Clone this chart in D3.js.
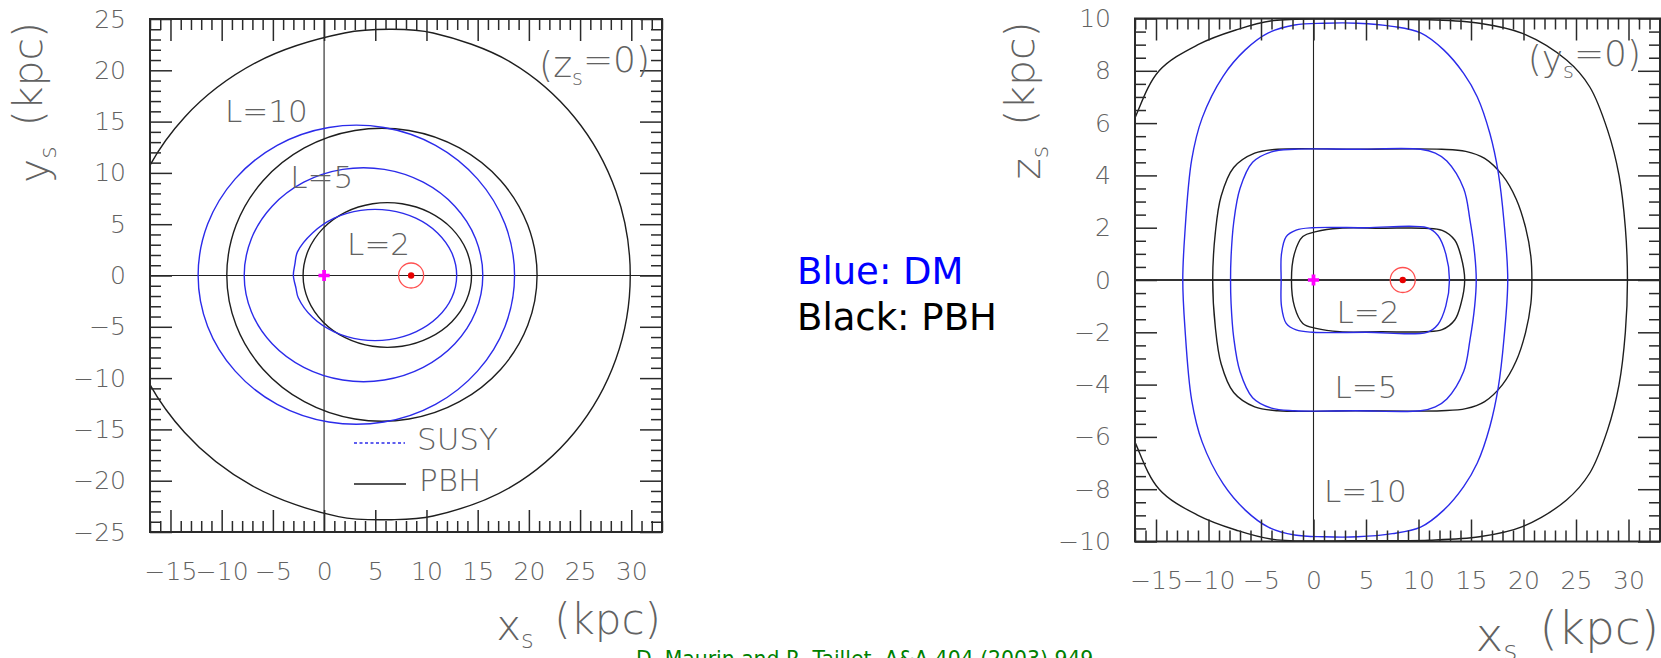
<!DOCTYPE html>
<html>
<head>
<meta charset="utf-8">
<script src="https://cdn.jsdelivr.net/npm/d3@7/dist/d3.min.js"></script>
<style>
html, body { margin: 0; padding: 0; background: #fff; }
svg { display: block; }
.thin { font-family: "DejaVu Sans Light", "DejaVu Sans ExtraLight", "DejaVu Sans", sans-serif; font-weight: 200; fill: #626262; }
</style>
</head>
<body>
<svg id="chart" width="1661" height="658"></svg>
<script>
// ---- axis ranges and tick values (kpc) ----
const xRange = [-17, 33];
const yRangeXY = [-25, 25];
const zRangeXZ = [-10, 10];
const xTickValues = [-15, -10, -5, 0, 5, 10, 15, 20, 25, 30];
const yTickValuesXY = [-25, -20, -15, -10, -5, 0, 5, 10, 15, 20, 25];
const zTickValuesXZ = [-10, -8, -6, -4, -2, 0, 2, 4, 6, 8, 10];

// Galactic centre and Sun position (kpc)
const galCentre = [0, 0];
const sunPos = [8.5, 0];

// ---- origin contours in the Galactic plane, points (x_s, y_s), z_s = 0 ----
const pbhXY_L10 = [
  [29.9, 0], [28.5, 8.21], [24.45, 15.43], [18.25, 20.78], [10.65, 23.64], [6.6, 24.0],
  [2.0, 23.64], [-6.6, 20.78], [-13.62, 15.43], [-18.2, 8.21], [-19.8, 0],
  [-18.2, -8.14], [-13.62, -15.3], [-7.0, -20.5], [1.4, -23.5], [6.6, -23.8],
  [10.65, -23.44], [18.25, -20.61], [24.45, -15.3], [28.5, -8.14]
];
const dmXY_L10 = [
  [18.6, 0], [17.67, 5.01], [14.98, 9.42], [10.88, 12.69], [5.84, 14.43], [0.46, 14.43],
  [-4.58, 12.69], [-8.68, 9.42], [-11.37, 5.01], [-12.3, 0], [-11.37, -4.96], [-8.68, -9.32],
  [-4.58, -12.56], [0.46, -14.28], [5.84, -14.28], [10.88, -12.56], [14.98, -9.32], [17.67, -4.96]
];
const pbhXY_L5 = [
  [20.8, 0], [19.89, 4.91], [17.26, 9.23], [13.22, 12.43], [8.29, 14.13], [3.01, 14.13],
  [-1.93, 12.43], [-5.96, 9.23], [-8.59, 4.91], [-9.5, 0], [-8.59, -4.86], [-5.96, -9.13],
  [-1.93, -12.3], [3.01, -13.99], [8.29, -13.99], [13.22, -12.3], [17.26, -9.13], [19.89, -4.86]
];
const dmXY_L5 = [
  [15.5, 0], [14.8, 3.59], [12.77, 6.75], [9.68, 9.09], [5.88, 10.34], [1.82, 10.34],
  [-1.98, 9.09], [-5.07, 6.75], [-7.1, 3.59], [-7.8, 0], [-7.1, -3.54], [-5.07, -6.66],
  [-1.98, -8.96], [1.82, -10.19], [5.88, -10.19], [9.68, -8.96], [12.77, -6.66], [14.8, -3.54]
];
const pbhXY_L2 = [
  [14.4, 0], [13.91, 2.43], [12.48, 4.57], [10.29, 6.15], [7.61, 6.99], [4.74, 6.99],
  [2.06, 6.15], [-0.12, 4.57], [-1.55, 2.43], [-2.05, 0], [-1.55, -2.39], [-0.12, -4.5],
  [2.06, -6.06], [4.74, -6.9], [7.61, -6.9], [10.29, -6.06], [12.48, -4.5], [13.91, -2.39]
];
const dmXY_L2 = [
  [12.95, 0], [12.47, 2.21], [11.08, 4.15], [8.96, 5.59], [6.36, 6.35], [3.59, 6.35],
  [0.99, 5.59], [-1.13, 4.15], [-2.6, 2.3], [-2.85, 1.1], [-3.0, 0], [-2.75, -1.2],
  [-2.52, -2.17], [-1.13, -4.08], [0.99, -5.5], [3.59, -6.25], [6.36, -6.25], [8.96, -5.5],
  [11.08, -4.08], [12.47, -2.17]
];

// ---- origin contours in the vertical plane, points (x_s, z_s), y_s = 0 ----
const pbhXZ_L10 = [
  [-3.8, 9.92], [4.0, 9.97], [11.0, 9.95], [15.8, 9.82], [19.9, 9.43], [24.1, 8.41], [26.3, 7.39],
  [28.0, 5.74], [29.1, 4.0], [29.7, 2.0], [29.9, 0], [29.7, -2.0], [29.1, -4.0], [28.0, -5.74],
  [26.3, -7.39], [24.1, -8.41], [19.9, -9.43], [15.8, -9.82], [11.0, -9.95], [4.0, -9.97],
  [-3.8, -9.92], [-7.4, -9.56], [-11.0, -9.0], [-14.7, -8.0], [-17.0, -6.2], [-19.0, -4.0],
  [-20.0, -2.0], [-20.3, 0], [-20.0, 2.0], [-19.0, 4.0], [-17.0, 6.2], [-14.7, 8.0], [-11.0, 9.0],
  [-7.4, 9.56]
];
const dmXZ_L10 = [
  [-4.3, 9.45], [-1.8, 9.75], [1.0, 9.82], [4.2, 9.82], [7.5, 9.7], [10.2, 9.45], [12.4, 8.8],
  [14.3, 7.9], [15.6, 7.0], [16.8, 5.6], [17.6, 4.1], [18.15, 2.2], [18.5, 0], [18.15, -2.2],
  [17.6, -4.1], [16.8, -5.6], [15.6, -7.0], [14.3, -7.9], [12.4, -8.8], [10.2, -9.45], [7.5, -9.7],
  [4.2, -9.82], [1.0, -9.82], [-1.8, -9.75], [-4.3, -9.45], [-6.5, -8.8], [-8.6, -7.8],
  [-10.6, -6.2], [-11.6, -4.6], [-12.25, -1.8], [-12.45, 0], [-12.25, 1.8], [-11.6, 4.6],
  [-10.6, 6.2], [-8.6, 7.8], [-6.5, 8.8]
];
const pbhXZ_L5 = [
  [-3.4, 5.0], [4.0, 5.0], [12.2, 5.0], [14.5, 4.92], [16.3, 4.65], [18.0, 4.0], [19.3, 3.1],
  [20.2, 2.0], [20.7, 0.9], [20.8, 0], [20.7, -0.9], [20.2, -2.0], [19.3, -3.1], [18.0, -4.0],
  [16.3, -4.65], [14.5, -4.92], [12.2, -5.0], [4.0, -5.0], [-3.4, -5.0], [-5.6, -4.85],
  [-7.6, -4.3], [-8.8, -3.2], [-9.35, -1.8], [-9.6, 0], [-9.35, 1.8], [-8.8, 3.2], [-7.6, 4.3],
  [-5.6, 4.85]
];
const dmXZ_L5 = [
  [-1.8, 5.0], [4.0, 5.0], [10.2, 5.0], [11.6, 4.85], [12.7, 4.55], [14.3, 3.5], [14.9, 2.3],
  [15.35, 1.0], [15.5, 0], [15.35, -1.0], [14.9, -2.3], [14.3, -3.5], [12.7, -4.55], [11.6, -4.85],
  [10.2, -5.0], [4.0, -5.0], [-1.8, -5.0], [-4.0, -4.9], [-5.8, -4.5], [-7.0, -3.5], [-7.6, -2.2],
  [-7.85, -0.9], [-7.9, 0], [-7.85, 0.9], [-7.6, 2.2], [-7.0, 3.5], [-5.8, 4.5], [-4.0, 4.9]
];
const pbhXZ_L2 = [
  [0.25, 1.85], [2.5, 1.98], [6.5, 1.98], [10.6, 1.98], [12.25, 1.9], [13.45, 1.53], [14.05, 0.9],
  [14.4, 0], [14.05, -0.9], [13.45, -1.53], [12.25, -1.9], [10.6, -1.98], [6.5, -1.98], [2.5, -1.98],
  [0.25, -1.85], [-1.02, -1.66], [-1.81, -1.02], [-2.1, 0], [-1.81, 1.02], [-1.02, 1.66]
];
const dmXZ_L2 = [
  [-0.06, 2.0], [5.0, 2.0], [10.8, 2.0], [11.85, 1.7], [12.6, 1.0], [12.95, 0], [12.6, -1.0],
  [11.85, -1.7], [10.8, -2.0], [5.0, -2.0], [-0.06, -2.0], [-1.65, -1.91], [-2.6, -1.66],
  [-3.05, -1.0], [-3.08, 0], [-3.05, 1.0], [-2.6, 1.66], [-1.65, 1.91]
];

// ---- annotation labels: [text, x_s, second coordinate] ----
const labelsXY = [["L=10", -9.67, 14.96], ["L=5", -3.3, 8.5], ["L=2", 2.25, 2.0]];
const labelsXZ = [["L=2", 2.2, -1.64], ["L=5", 2.0, -4.51], ["L=10", 1.0, -8.48]];

const colDM = "#2b2bea";
const colPBH = "#1e1e1e";
const axisCol = "#2a2a2a";

const svg = d3.select("#chart");

function subscriptText(sel, main, sub, rest, subGap) {
  sel.append("tspan").text(main);
  sel.append("tspan").attr("font-size", "58%").attr("dy", "0.34em").text(sub);
  sel.append("tspan").attr("dy", "-0.34em").attr("dx", subGap).text(rest);
}

function drawPanel(cfg) {
  const x = d3.scaleLinear().domain(xRange).range([cfg.left, cfg.right]);
  const y = d3.scaleLinear().domain(cfg.yRange).range([cfg.bottom, cfg.top]);
  const g = svg.append("g");

  svg.append("clipPath").attr("id", cfg.id + "-clip")
    .append("rect")
    .attr("x", cfg.left).attr("y", cfg.top)
    .attr("width", cfg.right - cfg.left).attr("height", cfg.bottom - cfg.top);

  const plot = g.append("g").attr("clip-path", `url(#${cfg.id}-clip)`);

  // axes through the Galactic centre
  plot.append("line")
    .attr("x1", x(xRange[0])).attr("x2", x(xRange[1]))
    .attr("y1", y(0)).attr("y2", y(0))
    .attr("stroke", cfg.hZeroColor).attr("stroke-width", cfg.hZeroWidth);
  plot.append("line")
    .attr("x1", x(0)).attr("x2", x(0))
    .attr("y1", y(cfg.yRange[0])).attr("y2", y(cfg.yRange[1]))
    .attr("stroke", "#222").attr("stroke-width", 1.1);

  // contours: PBH first, DM drawn over it
  const contour = d3.line()
    .x(d => x(d[0])).y(d => y(d[1]))
    .curve(d3.curveCatmullRomClosed.alpha(0.5));
  cfg.pbh.forEach(pts => plot.append("path").datum(pts).attr("d", contour)
    .attr("fill", "none").attr("stroke", colPBH).attr("stroke-width", 1.4));
  cfg.dm.forEach(pts => plot.append("path").datum(pts).attr("d", contour)
    .attr("fill", "none").attr("stroke", colDM).attr("stroke-width", 1.4));

  // Galactic centre
  plot.append("path")
    .attr("transform", `translate(${x(galCentre[0])},${y(galCentre[1])})`)
    .attr("d", d3.symbol(d3.symbolCross, 70)())
    .attr("fill", "#ff00ff");
  // Sun
  plot.append("circle").attr("cx", x(sunPos[0])).attr("cy", y(sunPos[1])).attr("r", 12.5)
    .attr("fill", "none").attr("stroke", "#ff5050").attr("stroke-width", 1.3);
  plot.append("circle").attr("cx", x(sunPos[0])).attr("cy", y(sunPos[1])).attr("r", 3.2)
    .attr("fill", "#e80000");

  // L labels
  cfg.labels.forEach(([t, lx, ly]) => {
    g.append("text").attr("class", "thin").attr("x", x(lx)).attr("y", y(ly))
      .attr("font-size", 31).text(t);
  });

  // ticks on all four sides, pointing inward
  const xMinor = d3.range(xRange[0], xRange[1] + 0.001, 1).filter(v => !xTickValues.includes(v));
  const yMinor = d3.range(cfg.yRange[0], cfg.yRange[1] + 0.001, cfg.yMinorStep)
    .filter(v => !cfg.yTicks.some(t => Math.abs(t - v) < 1e-6));
  const fmt = d3.format("d");

  function styleAxis(sel) {
    sel.select(".domain").remove();
    sel.attr("font-family", null).attr("font-size", null).attr("color", axisCol);
    sel.selectAll(".tick line").attr("stroke-width", 1.5);
    sel.selectAll(".tick text").attr("class", "thin").attr("font-size", 25);
  }

  g.append("g").attr("transform", `translate(0,${cfg.bottom})`)
    .call(d3.axisBottom(x).tickValues(xTickValues).tickSize(-22).tickPadding(30).tickFormat(fmt))
    .call(styleAxis);
  g.append("g").attr("transform", `translate(0,${cfg.bottom})`)
    .call(d3.axisBottom(x).tickValues(xMinor).tickSize(-11).tickFormat(""))
    .call(styleAxis);
  g.append("g").attr("transform", `translate(0,${cfg.top})`)
    .call(d3.axisTop(x).tickValues(xTickValues).tickSize(-22).tickFormat(""))
    .call(styleAxis);
  g.append("g").attr("transform", `translate(0,${cfg.top})`)
    .call(d3.axisTop(x).tickValues(xMinor).tickSize(-11).tickFormat(""))
    .call(styleAxis);
  g.append("g").attr("transform", `translate(${cfg.left},0)`)
    .call(d3.axisLeft(y).tickValues(cfg.yTicks).tickSize(-22).tickPadding(24).tickFormat(fmt))
    .call(styleAxis);
  g.append("g").attr("transform", `translate(${cfg.left},0)`)
    .call(d3.axisLeft(y).tickValues(yMinor).tickSize(-11).tickFormat(""))
    .call(styleAxis);
  g.append("g").attr("transform", `translate(${cfg.right},0)`)
    .call(d3.axisRight(y).tickValues(cfg.yTicks).tickSize(-22).tickFormat(""))
    .call(styleAxis);
  g.append("g").attr("transform", `translate(${cfg.right},0)`)
    .call(d3.axisRight(y).tickValues(yMinor).tickSize(-11).tickFormat(""))
    .call(styleAxis);

  // frame
  g.append("rect")
    .attr("x", cfg.left).attr("y", cfg.top)
    .attr("width", cfg.right - cfg.left).attr("height", cfg.bottom - cfg.top)
    .attr("fill", "none").attr("stroke", axisCol).attr("stroke-width", 2);

  // plane tag in the upper right corner
  const tag = g.append("text").attr("class", "thin").attr("font-size", 36)
    .attr("x", x(cfg.tagPos[0])).attr("y", y(cfg.tagPos[1]));
  subscriptText(tag, "(" + cfg.tagVar, "s", "=0)", 0);

  // axis titles
  const xt = g.append("text").attr("class", "thin").attr("font-size", cfg.xTitleSize)
    .attr("text-anchor", "end").attr("x", cfg.right - 1).attr("y", cfg.xTitleY);
  subscriptText(xt, "x", "s", " (kpc)", 7);
  const yt = g.append("text").attr("class", "thin").attr("font-size", 41)
    .attr("text-anchor", "end")
    .attr("transform", `translate(${cfg.yTitleX},${cfg.top + 3}) rotate(-90)`);
  subscriptText(yt, cfg.yVar, "s", " (kpc)", 7);

  return { g, x, y };
}

// left: Galactic plane
const left = drawPanel({
  id: "xy", left: 150, right: 662, top: 19, bottom: 532,
  yRange: yRangeXY, yTicks: yTickValuesXY, yMinorStep: 1,
  pbh: [pbhXY_L10, pbhXY_L5, pbhXY_L2], dm: [dmXY_L10, dmXY_L5, dmXY_L2],
  labels: labelsXY, hZeroColor: "#222", hZeroWidth: 1.1,
  tagVar: "z", tagPos: [21.0, 19.3],
  xTitleSize: 42, xTitleY: 640, yVar: "y", yTitleX: 48
});

// right: vertical plane through the Sun
const right = drawPanel({
  id: "xz", left: 1135, right: 1660, top: 18.5, bottom: 541.5,
  yRange: zRangeXZ, yTicks: zTickValuesXZ, yMinorStep: 0.5,
  pbh: [pbhXZ_L10, pbhXZ_L5, pbhXZ_L2], dm: [dmXZ_L10, dmXZ_L5, dmXZ_L2],
  labels: labelsXZ, hZeroColor: "#333", hZeroWidth: 2,
  tagVar: "y", tagPos: [20.4, 8.0],
  xTitleSize: 47, xTitleY: 651, yVar: "z", yTitleX: 1040
});

// legend of the Galactic-plane panel
const lg = left.g.append("g").attr("transform", "translate(354,0)");
lg.append("line").attr("x1", 0).attr("x2", 51).attr("y1", 443).attr("y2", 443)
  .attr("stroke", colDM).attr("stroke-width", 1.6).attr("stroke-dasharray", "3,2.5");
lg.append("text").attr("class", "thin").attr("font-size", 31).attr("x", 63).attr("y", 450).text("SUSY");
lg.append("line").attr("x1", 0).attr("x2", 52).attr("y1", 484).attr("y2", 484)
  .attr("stroke", colPBH).attr("stroke-width", 1.4);
lg.append("text").attr("class", "thin").attr("font-size", 31).attr("x", 65).attr("y", 491).text("PBH");

// colour key between the panels
svg.append("text").attr("x", 797).attr("y", 284)
  .attr("font-family", "DejaVu Sans, Verdana, sans-serif").attr("font-size", 37)
  .attr("fill", "#0000ff").text("Blue: DM");
svg.append("text").attr("x", 797).attr("y", 330)
  .attr("font-family", "DejaVu Sans, Verdana, sans-serif").attr("font-size", 37)
  .attr("fill", "#000").text("Black: PBH");

// reference line
svg.append("text").attr("x", 636).attr("y", 666)
  .attr("font-family", "DejaVu Sans, Verdana, sans-serif").attr("font-size", 20.4)
  .attr("fill", "#008000").text("D. Maurin and R. Taillet, A&A 404 (2003) 949");
</script>
</body>
</html>
